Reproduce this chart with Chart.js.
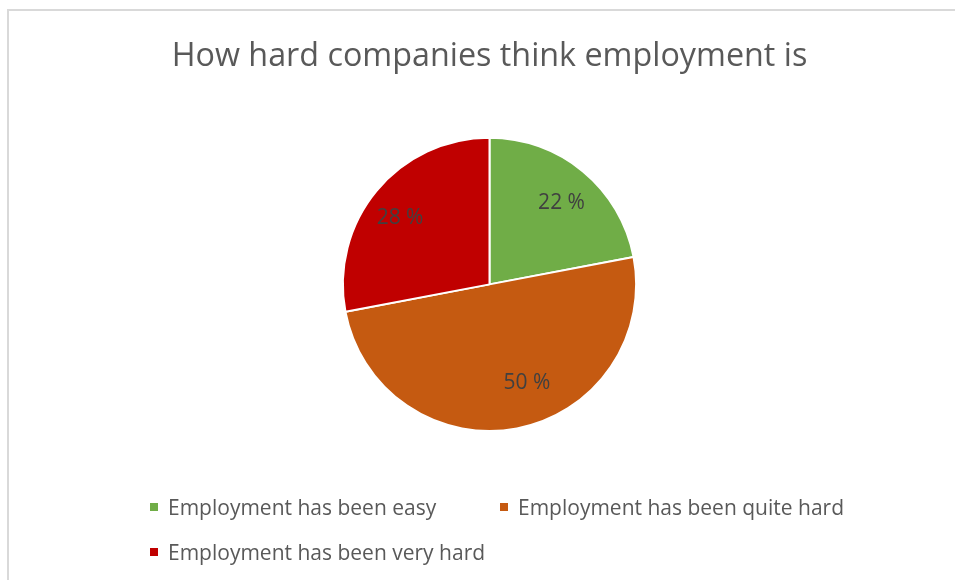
<!DOCTYPE html>
<html>
<head>
<meta charset="utf-8">
<script src="https://cdn.jsdelivr.net/npm/chart.js@4"></script>
<style>
    html, body { margin: 0; padding: 0; background: #fff; overflow: hidden; }
    body { width: 955px; height: 580px; position: relative; }
    .edgeTop { position: absolute; left: 7px; top: 9px; width: 2000px; height: 2px; background: #d9d9d9; }
    .edgeLeft { position: absolute; left: 7px; top: 9px; width: 2px; height: 2000px; background: #d9d9d9; }
    #chartWrap { position: absolute; left: 9px; top: 11px; width: 961px; height: 569px; }
    #legend {
        position: absolute; left: 148px; top: 494px;
        display: grid; grid-template-columns: 350px 350px; row-gap: 19px;
        font-family: "Open Sans", sans-serif; font-size: 21px; color: #595959;
    }
    .item { display: flex; align-items: center; height: 26px; white-space: nowrap; }
    .swatch { width: 8px; height: 8px; margin: 0 10px 0 2px; }
</style>
</head>
<body>
<div class="edgeTop"></div>
<div class="edgeLeft"></div>
<div id="chartWrap"><canvas id="pieChart"></canvas></div>
<div id="legend"></div>
<script>
const categories = [
    "Employment has been easy",
    "Employment has been quite hard",
    "Employment has been very hard"
];
const shares = [22, 50, 28];
const sliceColors = ["#70ad47", "#c55a11", "#c00000"];

// percent labels inside each slice; the nudge (degrees, radius fraction)
// keeps the big slice's label off the centre line
const sliceLabels = {
    id: "sliceLabels",
    afterDatasetsDraw(chart, args, opts) {
        const ctx = chart.ctx;
        const meta = chart.getDatasetMeta(0);
        ctx.save();
        ctx.font = '21px "Open Sans", sans-serif';
        ctx.fillStyle = "#404040";
        ctx.textAlign = "center";
        ctx.textBaseline = "middle";
        meta.data.forEach((arc, i) => {
            const { x, y, startAngle, endAngle, outerRadius } = arc.getProps(["x", "y", "startAngle", "endAngle", "outerRadius"]);
            const [turn, frac] = opts.nudge[i];
            const mid = (startAngle + endAngle) / 2 + turn * Math.PI / 180;
            const r = outerRadius * frac;
            ctx.fillText(`${shares[i]} %`, x + Math.cos(mid) * r, y + Math.sin(mid) * r);
        });
        ctx.restore();
    }
};

new Chart(document.getElementById("pieChart"), {
    type: "pie",
    data: {
        labels: categories,
        datasets: [{
            data: shares,
            backgroundColor: sliceColors,
            borderColor: "#ffffff",
            borderWidth: 2
        }]
    },
    options: {
        responsive: true,
        maintainAspectRatio: false,
        animation: false,
        layout: { padding: { bottom: 148 } },
        plugins: {
            legend: { display: false },
            tooltip: { enabled: false },
            title: {
                display: true,
                text: "How hard companies think employment is",
                color: "#595959",
                font: { family: "Open Sans", size: 32.3, weight: "normal" },
                padding: { top: 26, bottom: 61 }
            },
            sliceLabels: { nudge: [[2, 0.74], [-10, 0.72], [-3, 0.76]] }
        }
    },
    plugins: [sliceLabels]
});

// legend laid out in two columns below the pie
const legendBox = document.getElementById("legend");
categories.forEach((name, i) => {
    const item = document.createElement("div");
    item.className = "item";
    const swatch = document.createElement("span");
    swatch.className = "swatch";
    swatch.style.background = sliceColors[i];
    const text = document.createElement("span");
    text.textContent = name;
    item.append(swatch, text);
    legendBox.appendChild(item);
});
</script>
</body>
</html>
